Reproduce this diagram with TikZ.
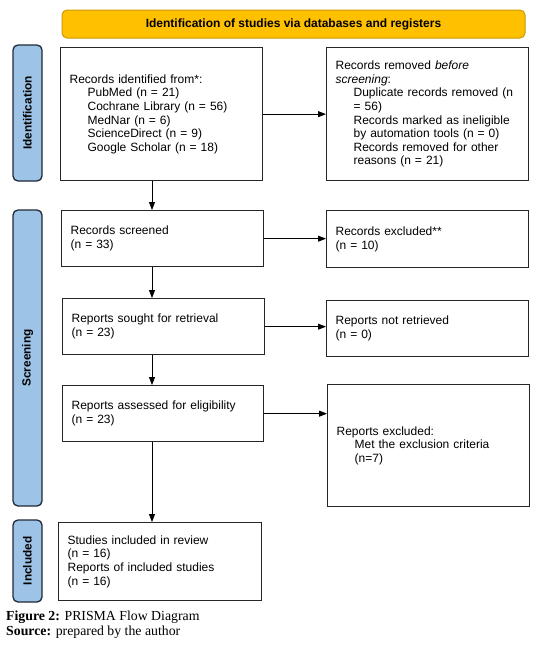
\documentclass[tikz,border=0pt]{standalone}
\usepackage{fontspec}
\setmainfont{Liberation Sans}
\newfontfamily\capfont{Liberation Serif}
\usetikzlibrary{arrows.meta}
\definecolor{gold}{HTML}{FFC000}
\definecolor{goldline}{HTML}{C99A00}
\definecolor{sideblue}{HTML}{9DC3E6}
\definecolor{sideline}{HTML}{1F2937}
\definecolor{boxline}{HTML}{262626}
\newcommand{\ind}{\hspace*{18pt}}
\begin{document}
\begin{tikzpicture}[x=1pt,y=-1pt,
  flowbox/.style={draw=boxline, line width=1.3pt, inner xsep=9pt, inner ysep=2pt,
    align=left, anchor=north west, font=\fontsize{12}{13.6}\selectfont},
  sidebar/.style={draw=sideline, fill=sideblue, line width=1.3pt, rounded corners=5pt,
    rotate=90, minimum height=29pt, inner sep=0pt, font=\bfseries\fontsize{11.8}{13}\selectfont},
  arr/.style={-{Triangle[length=8pt,width=6pt]}, line width=0.8pt, black},
]
\useasboundingbox (0,0) rectangle (551,645);

% header
\node[draw=goldline, fill=gold, rounded corners=5pt, line width=1pt,
  minimum width=463pt, minimum height=28pt, inner sep=0pt,
  font=\bfseries\fontsize{12}{14}\selectfont] (head) at (293.5,24)
  {Identification of studies via databases and registers};

% side bars
\node[sidebar, minimum width=136pt] (sbid) at (27.5,113) {Identification};
\node[sidebar, minimum width=296pt] (sbscr) at (27.5,358) {Screening};
\node[sidebar, minimum width=82pt] (sbinc) at (27.5,561) {Included};

% boxes
\node[flowbox, text width=184pt, minimum height=133pt] (ident) at (60,47)
  {Records identified from*:\\
   \ind PubMed (n = 21)\\
   \ind Cochrane Library (n = 56)\\
   \ind MedNar (n = 6)\\
   \ind ScienceDirect (n = 9)\\
   \ind Google Scholar (n = 18)};
\node[flowbox, text width=184pt, minimum height=133pt] (removed) at (326,47)
  {Records removed \textit{before}\\
   \textit{screening}:\\
   \ind Duplicate records removed (n\\
   \ind = 56)\\
   \ind Records marked as ineligible\\
   \ind by automation tools (n = 0)\\
   \ind Records removed for other\\
   \ind reasons (n = 21)};
\node[flowbox, text width=184pt, minimum height=56pt] (screened) at (61,210)
  {Records screened\\(n = 33)};
\node[flowbox, text width=184pt, minimum height=57pt] (excl) at (326,210)
  {Records excluded**\\(n = 10)};
\node[flowbox, text width=184pt, minimum height=56pt] (sought) at (62,298)
  {Reports sought for retrieval\\(n = 23)};
\node[flowbox, text width=184pt, minimum height=56pt] (notret) at (326,300)
  {Reports not retrieved\\(n = 0)};
\node[flowbox, text width=183pt, minimum height=56pt] (assessed) at (62,385)
  {Reports assessed for eligibility\\(n = 23)};
\node[flowbox, text width=184pt, minimum height=122pt] (repex) at (327,384)
  {Reports excluded:\\
   \ind Met the exclusion criteria\\
   \ind (n=7)};
\node[flowbox, text width=185pt, minimum height=78pt] (incl) at (58,522)
  {Studies included in review\\
   (n = 16)\\
   Reports of included studies\\
   (n = 16)};

% connectors
\coordinate (ax) at (152,0);
\draw[arr] (ident.south -| ax) -- (screened.north -| ax);
\draw[arr] (screened.south -| ax) -- (sought.north -| ax);
\draw[arr] (sought.south -| ax) -- (assessed.north -| ax);
\draw[arr] (assessed.south -| ax) -- (incl.north -| ax);
\draw[arr] (ident.east) -- (removed.west |- ident.east);
\draw[arr] (screened.east) -- (excl.west |- screened.east);
\draw[arr] (sought.east) -- (notret.west |- sought.east);
\draw[arr] (assessed.east) -- (repex.west |- assessed.east);

% caption
\node[anchor=base west, inner sep=0pt, font=\capfont\fontsize{13.8}{15}\selectfont] (cap1) at (6,620)
  {\textbf{Figure 2:} PRISMA Flow Diagram};
\node[anchor=base west, inner sep=0pt, font=\capfont\fontsize{13.8}{15}\selectfont] (cap2) at (6,635)
  {\textbf{Source:} prepared by the author};
\end{tikzpicture}
\end{document}
